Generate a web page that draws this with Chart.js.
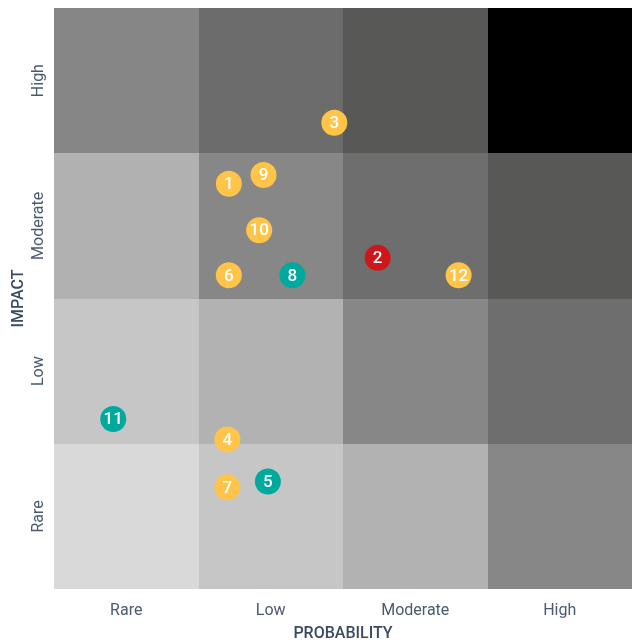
<!DOCTYPE html>
<html>
<head>
<meta charset="utf-8">
<script src="https://cdn.jsdelivr.net/npm/chart.js@4"></script>
<style>
  html, body { margin: 0; padding: 0; background: #ffffff; overflow: hidden; }
  canvas { display: block; }
</style>
</head>
<body>
<canvas id="c" width="632" height="640"></canvas>
<script>
// ---- data ----
const probabilityLabels = ['Rare', 'Low', 'Moderate', 'High'];
const impactLabels = ['Rare', 'Low', 'Moderate', 'High']; // bottom to top
const tickPositions = [0.5, 1.5, 2.5, 3.5];

// cell shades, one array per impact row (bottom to top), columns = probability
const shadeRare     = ['#d9d9d9', '#c6c6c6', '#b2b2b2', '#878787'];
const shadeLow      = ['#c6c6c6', '#b2b2b2', '#878787', '#6e6e6e'];
const shadeModerate = ['#b1b1b1', '#878787', '#6e6e6e', '#585857'];
const shadeHigh     = ['#868686', '#6c6c6c', '#585857', '#000000'];
const cellShades = [shadeRare, shadeLow, shadeModerate, shadeHigh];

// risks
const riskIds         = ['1', '2', '3', '4', '5', '6', '7', '8', '9', '10', '11', '12'];
const riskProbability = [1.21, 2.24, 1.94, 1.20, 1.48, 1.21, 1.20, 1.65, 1.45, 1.42, 0.41, 2.80];
const riskImpact      = [2.79, 2.28, 3.21, 1.03, 0.74, 2.16, 0.70, 2.16, 2.85, 2.47, 1.17, 2.16];
const riskColors      = ['#ffc448', '#cd171a', '#ffc448', '#ffc448', '#00a99d', '#ffc448',
                         '#ffc448', '#00a99d', '#ffc448', '#ffc448', '#00a99d', '#ffc448'];

const points = riskIds.map((id, i) => ({ x: riskProbability[i], y: riskImpact[i] }));

const cellPlugin = {
  id: 'cells',
  beforeDatasetsDraw(chart) {
    const { ctx, scales: { x, y } } = chart;
    ctx.save();
    cellShades.forEach((row, r) => {
      row.forEach((col, c) => {
        const x0 = Math.round(x.getPixelForValue(c));
        const x1 = Math.round(x.getPixelForValue(c + 1));
        const y0 = Math.round(y.getPixelForValue(r + 1));
        const y1 = Math.round(y.getPixelForValue(r));
        ctx.fillStyle = col;
        ctx.fillRect(x0, y0, x1 - x0, y1 - y0);
      });
    });
    ctx.restore();
  }
};

const labelPlugin = {
  id: 'bubbleLabels',
  afterDatasetsDraw(chart) {
    const { ctx } = chart;
    const meta = chart.getDatasetMeta(0);
    ctx.save();
    ctx.fillStyle = '#ffffff';
    ctx.font = '500 17px Roboto';
    ctx.textAlign = 'center';
    ctx.textBaseline = 'middle';
    meta.data.forEach((el, i) => {
      ctx.fillText(riskIds[i], el.x, el.y + 1);
    });
    ctx.restore();
  }
};

new Chart(document.getElementById('c'), {
  type: 'scatter',
  data: {
    datasets: [{
      data: points,
      backgroundColor: riskColors,
      borderWidth: 0,
      pointRadius: 13,
      pointHoverRadius: 13
    }]
  },
  options: {
    responsive: false,
    animation: false,
    devicePixelRatio: 1,
    layout: { autoPadding: false, padding: { top: 8, right: 0, left: 0, bottom: 0 } },
    plugins: { legend: { display: false }, tooltip: { enabled: false } },
    scales: {
      x: {
        type: 'linear',
        min: 0, max: 4,
        afterBuildTicks(scale) { scale.ticks = tickPositions.map(v => ({ value: v })); },
        afterFit(scale) { scale.height = 51; },
        grid: { display: false, drawTicks: false },
        border: { display: false },
        ticks: {
          padding: 12,
          color: '#4a5a70',
          font: { family: 'Roboto', size: 16 },
          callback: (v) => probabilityLabels[Math.floor(v)]
        },
        title: {
          display: true,
          text: 'PROBABILITY',
          color: '#3b4a62',
          font: { family: 'Roboto', size: 16, weight: '500', lineHeight: 1 },
          padding: { top: 0, bottom: -2 }
        }
      },
      y: {
        type: 'linear',
        min: 0, max: 4,
        afterBuildTicks(scale) { scale.ticks = tickPositions.map(v => ({ value: v })); },
        afterFit(scale) { scale.width = 54; },
        grid: { display: false, drawTicks: false },
        border: { display: false },
        ticks: {
          minRotation: 90,
          maxRotation: 90,
          crossAlign: 'center',
          padding: -19,
          color: '#4a5a70',
          font: { family: 'Roboto', size: 16 },
          callback: (v) => impactLabels[Math.floor(v)]
        },
        title: {
          display: true,
          text: 'IMPACT',
          color: '#3b4a62',
          font: { family: 'Roboto', size: 16, weight: '500', lineHeight: 1 },
          padding: { top: 11, bottom: 0 }
        }
      }
    }
  },
  plugins: [cellPlugin, labelPlugin]
});
</script>
</body>
</html>
